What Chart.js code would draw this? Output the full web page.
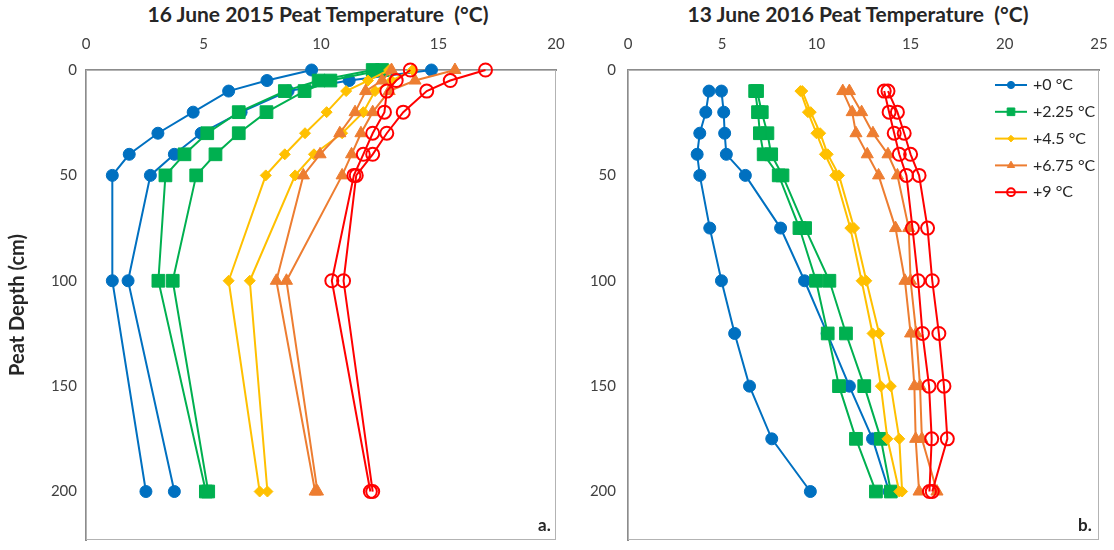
<!DOCTYPE html>
<html>
<head>
<meta charset="utf-8">
<script src="https://cdn.jsdelivr.net/npm/chart.js@4.4.1/dist/chart.umd.min.js"></script>
<style>
  body { margin: 0; background: #fff; width: 1114px; height: 550px; position: relative; overflow: hidden; font-family: Lato, 'Open Sans', sans-serif; color: #262626; }
  canvas { position: absolute; top: 0; }
  #panelA { left: 0; }
  #panelB { left: 570px; }
  .title { position: absolute; top: 1px; font-weight: bold; font-size: 21px; white-space: pre; transform: translateX(-50%); }
  .tag { position: absolute; font-weight: bold; font-size: 17px; }
</style>
</head>
<body>
<div class="title" style="left:318px">16 June 2015 Peat Temperature  (°C)</div>
<div class="title" style="left:858px">13 June 2016 Peat Temperature  (°C)</div>
<canvas id="panelA" width="570" height="550"></canvas>
<canvas id="panelB" width="544" height="550"></canvas>
<div class="tag" style="left:538px; top:514px">a.</div>
<div class="tag" style="left:1078px; top:514px">b.</div>
<script>
// sampling depths (cm)
const depth2015 = [0, 5, 10, 20, 30, 40, 50, 100, 200];
const depth2016 = [10, 20, 30, 40, 50, 75, 100, 125, 150, 175, 200];

const treatments = ['+0 °C', '+2.25 °C', '+4.5 °C', '+6.75 °C', '+9 °C'];

// 16 June 2015, two enclosures per treatment (°C)
const t2015_0a = [9.6, 7.7, 6.07, 4.56, 3.06, 1.84, 1.12, 1.12, 2.55];
const t2015_0b = [14.7, 11.2, 8.6, 6.6, 4.9, 3.76, 2.74, 1.79, 3.76];
const t2015_225a = [12.2, 9.9, 8.46, 6.5, 5.16, 4.19, 3.38, 3.08, 5.1];
const t2015_225b = [12.6, 10.4, 9.3, 7.68, 6.5, 5.51, 4.69, 3.69, 5.2];
const t2015_45a = [12.9, 12.0, 11.07, 10.24, 9.32, 8.46, 7.65, 6.07, 7.39];
const t2015_45b = [13.9, 13.0, 12.3, 11.8, 10.9, 9.7, 8.9, 6.97, 7.72];
const t2015_675a = [13.0, 12.6, 11.9, 11.45, 10.8, 9.96, 9.25, 8.1, 9.75];
const t2015_675b = [15.7, 14.0, 12.9, 12.2, 11.7, 11.3, 10.9, 8.53, 9.85];
const t2015_9a = [13.8, 13.2, 12.8, 12.7, 12.2, 11.8, 11.4, 10.46, 12.1];
const t2015_9b = [17.0, 15.5, 14.5, 13.5, 12.8, 12.2, 11.5, 10.96, 12.2];

// 13 June 2016
const t2016_0a = [4.3, 4.13, 3.81, 3.67, 3.81, 4.34, 4.96, 5.66, 6.45, 7.63, 9.68];
const t2016_0b = [4.96, 5.08, 5.13, 5.22, 6.23, 8.1, 9.37, 10.57, 11.75, 12.98, 13.86];
const t2016_225a = [6.75, 6.9, 7.0, 7.2, 8.0, 9.1, 9.98, 10.6, 11.2, 12.1, 13.16];
const t2016_225b = [6.85, 7.1, 7.4, 7.6, 8.2, 9.4, 10.69, 11.57, 12.54, 13.42, 13.95];
const t2016_45a = [9.15, 9.55, 10.0, 10.45, 11.0, 11.8, 12.4, 12.98, 13.42, 13.77, 14.4];
const t2016_45b = [9.25, 9.7, 10.2, 10.6, 11.2, 12.0, 12.65, 13.33, 13.95, 14.4, 14.55];
const t2016_675a = [11.4, 11.9, 12.1, 12.7, 13.3, 14.2, 14.7, 15.0, 15.2, 15.27, 15.45];
const t2016_675b = [11.75, 12.4, 13.0, 13.8, 14.3, 14.9, 15.0, 15.3, 15.5, 15.6, 16.4];
const t2016_9a = [13.6, 13.86, 14.13, 14.4, 14.78, 15.1, 15.4, 15.63, 15.98, 16.12, 16.0];
const t2016_9b = [13.8, 14.3, 14.66, 15.0, 15.45, 15.9, 16.15, 16.5, 16.77, 16.95, 16.15];

const STYLES = [
  { color: '#0070c0', point: 'circle', radius: 6, fill: '#0070c0', bw: 1 },
  { color: '#00b050', point: 'rect', radius: 9, fill: '#00b050', bw: 1 },
  { color: '#ffc000', point: 'rectRot', radius: 5.5, fill: '#ffc000', bw: 1 },
  { color: '#ed7d31', point: 'triangle', radius: 7, fill: '#ed7d31', bw: 1 },
  { color: '#ff0000', point: 'circle', radius: 6.5, fill: 'rgba(255,255,255,0)', bw: 2 }
];

function profile(temps, depths, k, inLegend) {
  const s = STYLES[k];
  return {
    label: treatments[k],
    data: temps.map((t, i) => ({ x: t, y: depths[i] })),
    showLine: true,
    tension: 0,
    clip: false,
    borderColor: s.color,
    borderWidth: 2,
    pointStyle: s.point,
    pointRadius: s.radius,
    pointHoverRadius: s.radius,
    pointBackgroundColor: s.fill,
    pointBorderColor: s.color,
    pointBorderWidth: s.bw,
    order: 5 - k,
    inLegend
  };
}

// light box round the plot area
const plotFrame = {
  id: 'plotFrame',
  beforeDatasetsDraw(chart) {
    const { ctx, chartArea: a } = chart;
    ctx.save();
    ctx.strokeStyle = '#b3b3b3';
    ctx.lineWidth = 1;
    ctx.strokeRect(a.left + 0.5, a.top + 0.5, a.width - 1, a.height - 1);
    ctx.restore();
  }
};

// legend drawn inside the plot, top right
const insideLegend = {
  id: 'insideLegend',
  afterDraw(chart, args, opts) {
    if (!opts.show) return;
    const { ctx, chartArea } = chart;
    const items = chart.data.datasets.filter((d) => d.inLegend);
    items.forEach((d, i) => {
      const y = chartArea.top + opts.top + i * opts.gap;
      const x0 = chartArea.right - opts.right;
      ctx.save();
      ctx.strokeStyle = d.borderColor;
      ctx.lineWidth = 2;
      ctx.beginPath();
      ctx.moveTo(x0, y);
      ctx.lineTo(x0 + 32, y);
      ctx.stroke();
      ctx.fillStyle = d.pointBackgroundColor;
      ctx.strokeStyle = d.pointBorderColor;
      ctx.lineWidth = d.pointBorderWidth;
      Chart.helpers.drawPoint(ctx, {
        pointStyle: d.pointStyle,
        radius: d.pointRadius * 0.6,
        borderWidth: d.pointBorderWidth
      }, x0 + 16, y);
      ctx.fillStyle = '#262626';
      ctx.font = '16px Lato';
      ctx.textBaseline = 'middle';
      ctx.fillText(d.label, x0 + 38, y);
      ctx.restore();
    });
  }
};

function makePanel(id, datasets, cfg) {
  return new Chart(document.getElementById(id), {
    type: 'scatter',
    data: { datasets },
    plugins: [plotFrame, insideLegend],
    options: {
      responsive: false,
      animation: false,
      layout: { padding: { top: 0, left: 0, right: cfg.padRight, bottom: 7 } },
      plugins: {
        legend: { display: false },
        tooltip: { enabled: false },
        insideLegend: cfg.legend
      },
      scales: {
        x: {
          type: 'linear',
          position: 'top',
          min: 0,
          max: cfg.xMax,
          afterFit: (scale) => {
            scale.height = 70;
            scale.paddingLeft = 0;
            scale.paddingRight = 0;
          },
          ticks: { stepSize: 5, padding: 17, color: '#404040', font: { family: 'Lato', size: 15 } },
          grid: { display: false, drawTicks: false },
          border: { color: '#8c8c8c', width: 2 }
        },
        y: {
          type: 'linear',
          reverse: true,
          min: 0,
          max: 223,
          afterFit: (scale) => {
            scale.width = cfg.yWidth;
            scale.paddingTop = 0;
            scale.paddingBottom = 0;
          },
          ticks: { stepSize: 50, includeBounds: false, padding: cfg.yPad, color: '#404040', font: { family: 'Lato', size: 15 } },
          grid: { display: false, drawTicks: false },
          border: { color: '#8c8c8c', width: 2 },
          title: {
            display: cfg.yTitle,
            text: 'Peat Depth (cm)',
            color: '#262626',
            font: { family: 'Lato', size: 20, weight: 'bold' },
            padding: { top: 6, bottom: 0 }
          }
        }
      }
    }
  });
}

makePanel('panelA', [
  profile(t2015_0a, depth2015, 0, true),
  profile(t2015_0b, depth2015, 0, false),
  profile(t2015_225a, depth2015, 1, true),
  profile(t2015_225b, depth2015, 1, false),
  profile(t2015_45a, depth2015, 2, true),
  profile(t2015_45b, depth2015, 2, false),
  profile(t2015_675a, depth2015, 3, true),
  profile(t2015_675b, depth2015, 3, false),
  profile(t2015_9a, depth2015, 4, true),
  profile(t2015_9b, depth2015, 4, false)
], { xMax: 20, padRight: 14, yWidth: 86, yPad: 9, yTitle: true, legend: { show: false } });

makePanel('panelB', [
  profile(t2016_0a, depth2016, 0, true),
  profile(t2016_0b, depth2016, 0, false),
  profile(t2016_225a, depth2016, 1, true),
  profile(t2016_225b, depth2016, 1, false),
  profile(t2016_45a, depth2016, 2, true),
  profile(t2016_45b, depth2016, 2, false),
  profile(t2016_675a, depth2016, 3, true),
  profile(t2016_675b, depth2016, 3, false),
  profile(t2016_9a, depth2016, 4, true),
  profile(t2016_9b, depth2016, 4, false)
], { xMax: 25, padRight: 15, yWidth: 58, yPad: 12, yTitle: false, legend: { show: true, top: 15, gap: 26.8, right: 104 } });
</script>
</body>
</html>
